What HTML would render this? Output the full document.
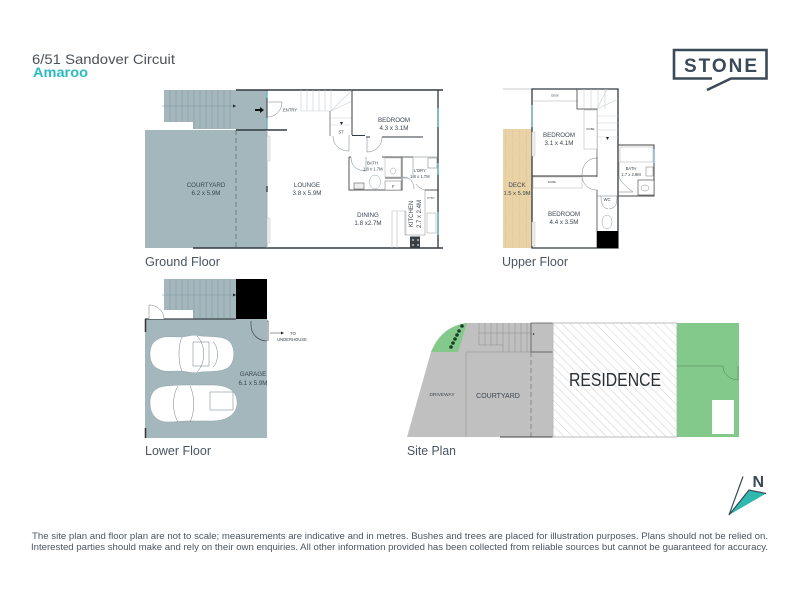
<!DOCTYPE html>
<html><head><meta charset="utf-8"><style>
html,body{margin:0;padding:0;background:#fff;width:800px;height:600px;overflow:hidden}
svg{display:block}
text{font-family:"Liberation Sans",sans-serif;fill:#3f4a55}
.l{font-size:6.200px;fill:#3c4650}
.s{font-size:4.200px;fill:#3c4650}
.h{font-size:13px;fill:#4a5560}
.w{fill:none;stroke:#333a40;stroke-width:1.5}
.t{fill:none;stroke:#6f7a80;stroke-width:.5}
.g{fill:none;stroke:#c9cfd2;stroke-width:.6}
.st{fill:none;stroke:#7f979e;stroke-width:.5}
.c{fill:#fff;stroke:#8fa3a9;stroke-width:.5}
</style></head><body>
<svg width="800" height="600" viewBox="0 0 800 600" xmlns="http://www.w3.org/2000/svg">
<defs><pattern id="hatch" width="6" height="6" patternUnits="userSpaceOnUse" patternTransform="rotate(-45)"><rect width="6" height="6" fill="#fff"/><line x1="0" y1="0" x2="0" y2="6" stroke="#c4c4c4" stroke-width=".8"/></pattern>
<pattern id="deck" width="7" height="14" patternUnits="userSpaceOnUse"><rect width="7" height="14" fill="#e9d3a6"/><line x1="1" y1="0" x2="2" y2="14" stroke="#d9bf8b" stroke-width=".4"/></pattern></defs>

<text x="32" y="64" font-size="14" textLength="143" lengthAdjust="spacingAndGlyphs" style="fill:#4a525c">6/51 Sandover Circuit</text>
<text x="33" y="77" font-size="13.500" font-weight="bold" textLength="55" lengthAdjust="spacingAndGlyphs" style="fill:#2bbcc0">Amaroo</text>

<!-- logo -->
<path d="M712 78.500H674V50H766.500V78.500H731L707 90" fill="none" stroke="#3b4a58" stroke-width="2.600"/>
<text x="684" y="72" font-size="19" font-weight="bold" textLength="73" style="fill:#3b4a58">STONE</text>

<!-- GROUND FLOOR -->
<rect x="164" y="90" width="72" height="39" fill="#a3b7bd"/>
<rect x="164" y="122" width="29" height="8" fill="#fff"/>
<rect x="236" y="90" width="31" height="40" fill="#a3b7bd"/>
<rect x="145" y="130" width="122" height="118" fill="#a3b7bd"/>
<g class="st"><path d="M170 90V122M176 90V122M182 90V122M188 90V122M194 90V129M200 90V129M206 90V129M212 90V129M218 90V129M224 90V129M230 90V129M162 106H233"/></g>
<path d="M233 104.500l3 1.500-3 1.500z" fill="#222"/>
<path d="M236 130V248" stroke="#5c6a70" stroke-width=".7" stroke-dasharray="5 3"/>
<path d="M236 90H443M236 130H287M193 248H443" class="w"/>
<path d="M267 90V130" stroke="#333a40" stroke-width="1"/>
<path d="M267 91V98M267 118V129" stroke="#5eb4bf" stroke-width="1.300"/>
<path d="M267 130V248" stroke="#9aa5a9" stroke-width=".8"/>
<path d="M267 136h3v25h-3zM267 218h3v25h-3z" fill="#eee" stroke="#bbb" stroke-width=".4"/>
<path d="M267 186v6" stroke="#333" stroke-width="1.300"/>
<path d="M255 109l5 0v-2l4 3-4 3v-2h-5z" fill="#111"/>
<path d="M267 102h15M267 117c9 0 15-7 15-15" class="t"/>
<text class="s" x="283" y="111.500">ENTRY</text>
<!-- stairs white -->
<g class="g"><path d="M301 90V111M307 90V111M313 90V111M319 90V111M325 90V111M331 90V111M301 111H331M331 111V90M331 111L352 90M331 111L352 101M331 118H352M331 125H350"/></g>
<path d="M330 111V136" stroke="#555" stroke-width=".7"/>
<path d="M340 122h3l-1.500 3z" fill="#222"/>
<text class="s" x="338.500" y="133.500">ST</text>
<path d="M349 135V151M333 136c0 9 7 15 16 15" class="t"/>
<path d="M352 90V135" stroke="#333a40" stroke-width="1"/>
<path d="M352 135.500H365M366 137H370M382 137H423" stroke="#333a40" stroke-width=".9"/>
<path d="M382 137c0 8-6 15-15 15M367 137V152" class="t"/>
<text x="394" y="122" class="l" text-anchor="middle">BEDROOM</text>
<text x="394" y="130" class="l" text-anchor="middle">4.3 x 3.1M</text>
<path d="M438 90V248" stroke="#3c4448" stroke-width="1.400"/>
<path d="M438 108V127M438 163V175M438 212V235" stroke="#7dbdc6" stroke-width="1.800"/>
<!-- bath -->
<path d="M349 157V190H402V157H382M349 157H351M402 157H413" stroke="#555" stroke-width="1" fill="none"/>
<path d="M351 157c0 10 7 14 15 14M366 171V157" class="t"/>
<text class="s" x="367" y="164.500">BATH</text>
<text class="s" x="363" y="170.500">1.8 x 1.7M</text>
<rect x="385" y="158" width="16" height="19" fill="#fff" stroke="#999" stroke-width=".4"/>
<rect x="385" y="181" width="16" height="9" fill="#fff" stroke="#777" stroke-width=".5"/>
<text class="s" x="392" y="188">F</text>
<circle cx="393" cy="171" r="3" fill="none" stroke="#888" stroke-width=".4"/>
<path d="M385 178H401" stroke="#333" stroke-width=".8"/>
<ellipse cx="375" cy="182" rx="5.500" ry="7" class="c"/>
<rect x="354" y="183" width="10" height="6" fill="#eee" stroke="#444" stroke-width=".5"/>
<!-- laundry -->
<path d="M402 157H437M413 157V178M403 178H408M403 177c6 0 11 4 11 12" class="t"/>
<rect x="428" y="158" width="9" height="10" fill="#fff" stroke="#777" stroke-width=".5"/>
<text class="s" x="414" y="172">L'DRY</text>
<text class="s" x="410" y="178">1.8 x 1.7M</text>
<path d="M425 190H438" stroke="#333" stroke-width=".8"/>
<path d="M425 190c-3 0-9-5-9-6" class="t"/>
<path d="M392 211V248M406 211V235M392 211H406M397 211V248" class="g" style="stroke:#bbb"/>
<path d="M405 235V211M425 190V235M405 235H425" stroke="#888" stroke-width=".5" fill="none"/>
<rect x="410" y="236.500" width="10" height="11" fill="#3a3f44"/>
<g fill="#bbb"><circle cx="413" cy="240" r="1"/><circle cx="418" cy="240" r="1"/><circle cx="413" cy="245" r="1"/><circle cx="418" cy="245" r="1"/></g>
<rect x="427" y="213" width="9" height="20" fill="#fff" stroke="#888" stroke-width=".4"/>
<text class="s" x="431" y="199" text-anchor="middle" style="font-size:2.800px">PTRY</text>
<text x="413" y="214" class="s" text-anchor="middle" transform="rotate(-90 413 214)" style="font-size:6px">KITCHEN</text>
<text x="421" y="214" class="s" text-anchor="middle" transform="rotate(-90 421 214)" style="font-size:6px">2.7 x 2.4M</text>
<text x="206" y="187" class="l" text-anchor="middle">COURTYARD</text>
<text x="206" y="195" class="l" text-anchor="middle">6.2 x 5.9M</text>
<text x="307" y="187" class="l" text-anchor="middle">LOUNGE</text>
<text x="307" y="195" class="l" text-anchor="middle">3.8 x 5.9M</text>
<text x="368" y="217" class="l" text-anchor="middle">DINING</text>
<text x="368" y="225" class="l" text-anchor="middle">1.8 x2.7M</text>
<text class="h" x="145" y="266" textLength="75" lengthAdjust="spacingAndGlyphs">Ground Floor</text>

<!-- UPPER FLOOR -->
<rect x="503" y="129" width="29" height="119" fill="url(#deck)"/>
<path d="M503 89H532" stroke="#999" stroke-width=".6"/>
<path d="M532 89H618V248H532Z" class="w" style="stroke-width:1.300"/>
<path d="M532 105V127" stroke="#7dbdc6" stroke-width="1.500"/>
<path d="M532 89V104M532 200V248" stroke="#333" stroke-width="1"/>
<path d="M532 132h3v24h-3zM532 222h3v24h-3z" fill="#eee" stroke="#bbb" stroke-width=".4"/>
<path d="M532 101H577" stroke="#aaa" stroke-width=".5"/>
<text class="s" x="555" y="96.500" text-anchor="middle" style="font-size:2.800px">DESK</text>
<g class="g"><path d="M577 89V109M584 89V109M591 89V109M598 89V109M605 89V109M577 109H597M597 109L618 99M597 109L607 89M597 116H618M597 123H618M597 130H618M597 137H618"/></g>
<path d="M577 89V109H597" stroke="#444" stroke-width=".8" fill="none"/>
<path d="M606 137h3l-1.500 3z" fill="#222"/>
<path d="M597 109V157" stroke="#555" stroke-width=".7"/>
<rect x="584" y="110" width="13" height="39" fill="#fff" stroke="#aaa" stroke-width=".5"/>
<text class="s" x="590.500" y="130" text-anchor="middle" style="font-size:2.800px">ROBE</text>
<text x="559" y="137" class="l" text-anchor="middle">BEDROOM</text>
<text x="559" y="145" class="l" text-anchor="middle">3.1 x 4.1M</text>
<path d="M532 176H597" stroke="#333" stroke-width="1"/>
<path d="M597 158c-8 0-15 6-15 17M582 176c0 7 6 14 15 14" class="t"/>
<path d="M597 157V177M597 190V248" stroke="#444" stroke-width=".8"/>
<rect x="533" y="177" width="49" height="11" fill="#fff" stroke="#aaa" stroke-width=".5"/>
<text class="s" x="552" y="183" text-anchor="middle" style="font-size:2.800px">ROBE</text>
<text x="564" y="216" class="l" text-anchor="middle">BEDROOM</text>
<text x="564" y="224" class="l" text-anchor="middle">4.4 x 3.5M</text>
<text x="517" y="187" class="l" text-anchor="middle">DECK</text>
<text x="517" y="195" class="l" text-anchor="middle" style="font-size:5.800px">1.5 x 5.9M</text>
<rect x="597" y="231" width="21" height="17" fill="#000"/>
<ellipse cx="607" cy="222" rx="5" ry="7" class="c"/>
<path d="M597 196H618M601 196c0 8 2 12 7 13M617 196c0 8-1 12-8 13" class="t"/>
<text class="s" x="607" y="201" text-anchor="middle">WC</text>
<path d="M618 145H654V196H618" fill="none" stroke="#444" stroke-width="1"/>
<path d="M654 149V163" stroke="#7dbdc6" stroke-width="1.500"/>
<rect x="620" y="147" width="33" height="15" fill="#fff" stroke="#aaa" stroke-width=".5"/>
<path d="M619 162V176c0 4 8 12 14 16H618" class="t"/>
<text class="s" x="631" y="170" text-anchor="middle">BATH</text>
<text class="s" x="631" y="176" text-anchor="middle">1.7 x 2.8M</text>
<rect x="646" y="167" width="7" height="9" fill="#fff" stroke="#777" stroke-width=".5"/>
<rect x="638" y="180" width="16" height="15" fill="#fff" stroke="#555" stroke-width=".7"/>
<ellipse cx="645" cy="188" rx="4" ry="3" fill="none" stroke="#888" stroke-width=".5"/>
<text class="h" x="502" y="266" textLength="66" lengthAdjust="spacingAndGlyphs">Upper Floor</text>

<!-- LOWER FLOOR -->
<rect x="164" y="279" width="72" height="40" fill="#a3b7bd"/>
<rect x="164" y="310" width="29" height="9" fill="#fff"/>
<g class="st"><path d="M170 279V310M176 279V310M182 279V310M188 279V310M194 279V318M200 279V318M206 279V318M212 279V318M218 279V318M224 279V318M230 279V318M162 295H233"/></g>
<path d="M233 293.500l3 1.500-3 1.500z" fill="#222"/>
<rect x="236" y="279" width="31" height="42" fill="#000"/>
<rect x="145" y="319" width="122" height="119" fill="#a3b7bd"/>
<path d="M145 319H236" stroke="#3c4448" stroke-width="1.300"/>
<path d="M145.500 319V332M145.500 428V438" stroke="#333" stroke-width="1.500"/>
<path d="M149 319V305c8 0 15 6 15 14" fill="#fff" stroke="#777" stroke-width=".5"/>
<path d="M251 325c0 9 7 16 16 16" fill="none" stroke="#333" stroke-width=".6"/>
<path d="M251 321V325" stroke="#333" stroke-width=".6"/>
<path d="M267 321H268V341" stroke="#333" stroke-width=".7" fill="none"/>
<path d="M270 333H281" stroke="#333" stroke-width=".5"/><path d="M281 331.500l3 1.500-3 1.500z" fill="#222"/>
<text class="s" x="293" y="335" text-anchor="middle">TO</text>
<text class="s" x="292" y="341" text-anchor="middle">UNDERHOUSE</text>
<!-- cars -->
<path d="M150 354c0-10 5-15 14-17 8-1 14 1 24-1 4-1 8-1 13 0 14 1 23 0 29 6 5 6 5 18 0 24-6 6-15 5-29 6-5 1-9 1-13 0-10-2-16 0-24-1-9-2-14-7-14-17z" class="c"/>
<path d="M182 337c-4 8-4 26 0 34M197 336c9 9 9 27 0 36M193 342h16v24h-16zM213 342c6 5 6 20 0 25" class="t"/>
<path d="M150 403c0-11 6-16 16-17 10-1 16-1 23-1h23c13 0 24 4 25 16 1 13-10 20-25 20h-23c-7 0-13 1-23 1-10-1-16-8-16-19z" class="c"/>
<path d="M178 386c-6 10-6 26 0 36M190 386c5 10 5 26 0 36M210 392h23v18h-23z" class="t"/>
<text x="253" y="376" class="l" text-anchor="middle">GARAGE</text>
<text x="253" y="385" class="l" text-anchor="middle">6.1 x 5.9M</text>
<text class="h" x="145" y="455" textLength="66" lengthAdjust="spacingAndGlyphs">Lower Floor</text>

<!-- SITE PLAN -->
<path d="M407 437L431 352C438 335 450 325 467 323H553V437Z" fill="#c0c0c0"/>
<path d="M431 352C438 335 450 325 467 323L458 352Z" fill="#84c98c"/>
<g fill="#1d3d24"><circle cx="451" cy="347" r="1.800"/><circle cx="453" cy="343" r="1.800"/><circle cx="455" cy="339" r="1.800"/><circle cx="457" cy="335" r="1.800"/><circle cx="459" cy="331" r="1.800"/><circle cx="462" cy="326" r="1.800"/></g>
<path d="M466 437V352H553" fill="none" stroke="#a6a6a6" stroke-width="1"/>
<g stroke="#8d8d8d" stroke-width=".5" fill="none"><path d="M479 323V345M485 323V345M491 323V345M497 323V345M503 323V352M509 323V352M515 323V352M521 323V352M527 323V352M531 323V352M479 333H531M479 345H503"/></g>
<path d="M531 323H553V352H531Z" fill="none" stroke="#555" stroke-width=".7"/>
<circle cx="533.500" cy="334" r=".8" fill="#222"/>
<path d="M531 352V437" stroke="#666" stroke-width=".6" stroke-dasharray="5 3"/>
<path d="M500 437H553" stroke="#444" stroke-width="1"/>
<rect x="553" y="323" width="124" height="114" fill="url(#hatch)" stroke="#bdbdbd" stroke-width="1"/>
<text x="615" y="386" font-size="18" text-anchor="middle" textLength="92" lengthAdjust="spacingAndGlyphs" style="fill:#2a2f33">RESIDENCE</text>
<rect x="677" y="323" width="62" height="114" fill="#84c98c"/>
<path d="M677 366H723M723 366c0 7 5 13 15 14M738 366V380" stroke="#4c7a52" stroke-width=".5" fill="none"/>
<rect x="712" y="400" width="22" height="34" fill="#fff"/>
<text x="442" y="396" class="s" text-anchor="middle" style="font-size:4.800px">DRIVEWAY</text>
<text x="498" y="398" class="l" text-anchor="middle" style="font-size:7px">COURTYARD</text>
<text class="h" x="407" y="455" textLength="49" lengthAdjust="spacingAndGlyphs">Site Plan</text>

<!-- north -->
<path d="M729 515L749 490L766 493.500Z" fill="#2fb8ad"/>
<path d="M743 476.500L729 515L749 490L766 493.500" fill="none" stroke="#3b4a58" stroke-width="1.200"/>
<text x="752.500" y="487" font-size="16" font-weight="bold" style="fill:#3b4a58">N</text>

<!-- disclaimer -->
<text x="32" y="539" font-size="9" textLength="736" lengthAdjust="spacingAndGlyphs" style="fill:#4a5560">The site plan and floor plan are not to scale; measurements are indicative and in metres. Bushes and trees are placed for illustration purposes. Plans should not be relied on.</text>
<text x="31" y="550" font-size="9" textLength="737" lengthAdjust="spacingAndGlyphs" style="fill:#4a5560">Interested parties should make and rely on their own enquiries. All other information provided has been collected from reliable sources but cannot be guaranteed for accuracy.</text>
</svg>
</body></html>
